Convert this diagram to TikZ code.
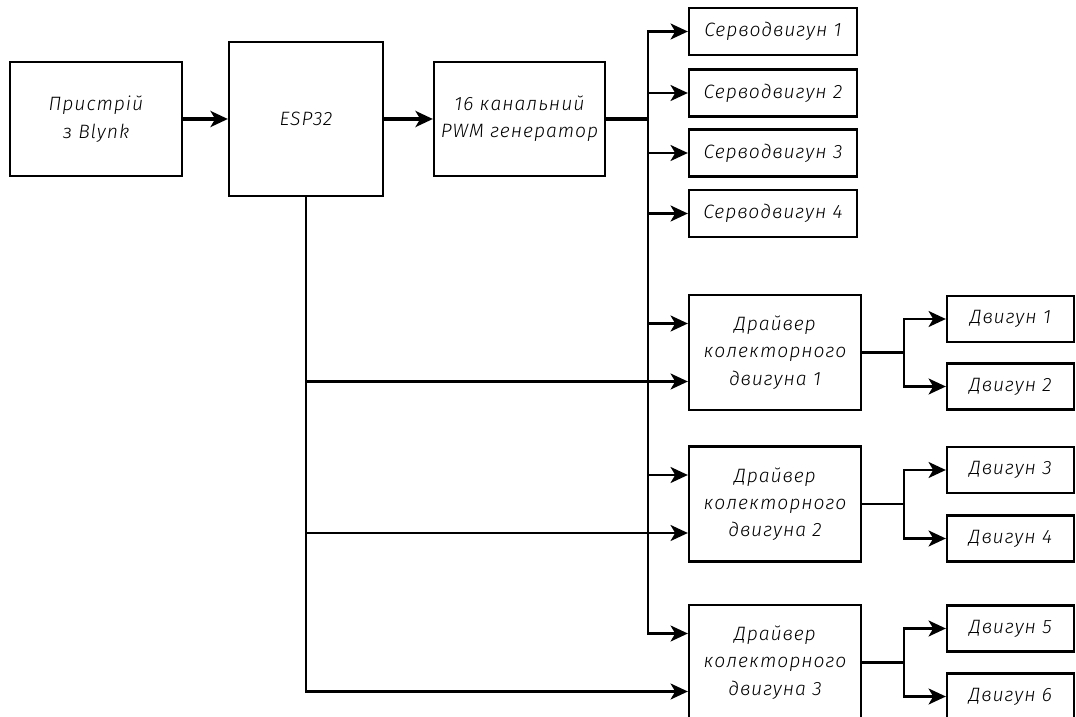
\documentclass[tikz,border=0pt]{standalone}
\usepackage{fontspec}
\setmainfont{Fira Sans}[UprightFont=* Light, ItalicFont=* Light Italic]
\usetikzlibrary{arrows.meta,calc}
\tikzset{every path/.style={black,line width=1.6pt},
  block/.style={draw,line width=1.7pt,align=center,inner sep=0pt,
    font=\itshape\fontsize{14.5}{20.5}\selectfont\addfontfeatures{LetterSpace=5}},
  arr/.style={-{Stealth[length=13pt,width=12pt,inset=3.5pt]}},
  bold/.style={line width=2.4pt}}

\begin{document}
\begin{tikzpicture}[x=0.75pt,y=-0.75pt]
   \useasboundingbox (0,0) rectangle (1076,717);
   \node[block,minimum width=129pt,minimum height=85.5pt] (dev) at (96,119) {Пристрій\\з Blynk};
   \node[block,minimum width=115.5pt,minimum height=115.5pt] (esp) at (306,119) {ESP32};
   \node[block,minimum width=128.25pt,minimum height=85.5pt] (pwm) at (519.5,119) {16 канальний\\PWM генератор};
   \foreach \i/\y in {1/31.5,2/93,3/153,4/213.5}
     \node[block,minimum width=126pt,minimum height=35.25pt] (srv\i) at (773,\y) {Серводвигун \i};
   \foreach \i/\y in {1/352.5,2/504,3/662.5} {
     \node[block,minimum width=129pt,minimum height=86.25pt] (drv\i) at (775,\y) {Драйвер\\колекторного\\двигуна \i};
     \coordinate (hi\i) at ($(drv\i.west)+(0,-29)$);
     \coordinate (lo\i) at ($(drv\i.west)+(0,29)$);
   }
   \foreach \i/\y in {1/319,2/386.5,3/470,4/538.5,5/628.5,6/696.5}
     \node[block,minimum width=95.25pt,minimum height=34.5pt] (mot\i) at (1010.5,\y) {Двигун \i};

   \draw[arr,bold] (dev) -- (esp);
   \draw[arr,bold] (esp) -- (pwm);
   \coordinate (bus) at (648,119);
   \draw[bold] (pwm) -- (bus);
   \draw[arr] (bus) |- (srv1);
   \draw[arr] (bus) |- (hi3);
   \foreach \i in {2,3,4}
     \draw[arr] (bus |- srv\i) -- (srv\i);
   \foreach \i in {1,2}
     \draw[arr] (bus |- hi\i) -- (hi\i);
   \draw[arr] (esp.south) |- (lo3);
   \foreach \i in {1,2}
     \draw[arr] (esp.south |- lo\i) -- (lo\i);
   \foreach \i/\a/\b in {1/1/2,2/3/4,3/5/6} {
     \coordinate (sp\i) at ($(drv\i.east)+(42,0)$);
     \draw (drv\i) -- (sp\i);
     \draw[arr] (sp\i) |- (mot\a);
     \draw[arr] (sp\i) |- (mot\b);
   }
  \end{tikzpicture}
\end{document}
